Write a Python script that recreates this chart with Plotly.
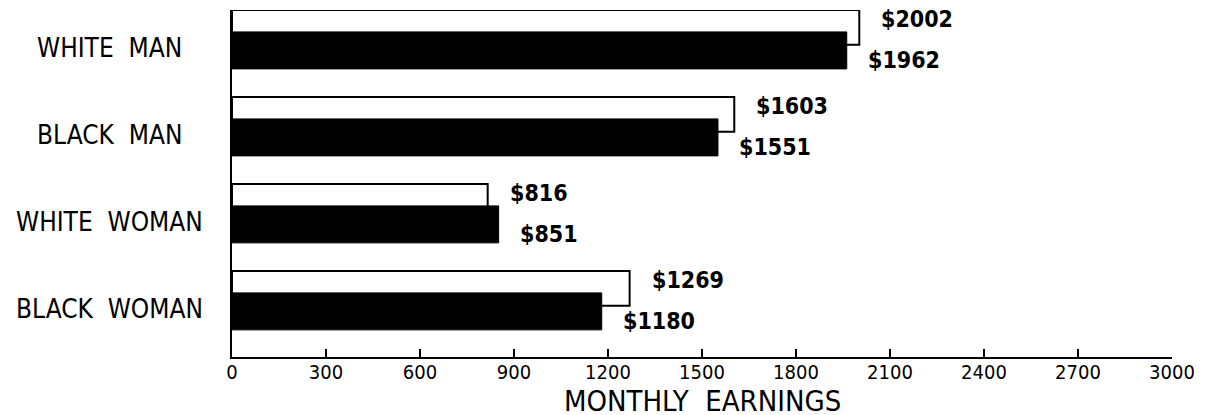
import plotly.graph_objects as go

categories = ["WHITE MAN", "BLACK MAN", "WHITE WOMAN", "BLACK WOMAN"]
outlined_values = [2002, 1603, 816, 1269]
filled_values = [1962, 1551, 851, 1180]
tick_values = [0, 300, 600, 900, 1200, 1500, 1800, 2100, 2400, 2700, 3000]
x_title = "MONTHLY  EARNINGS"

positions = list(range(len(categories)))
FONT = "DejaVu Sans Condensed, Liberation Sans Narrow, DejaVu Sans, sans-serif"

fig = go.Figure()
fig.add_trace(go.Bar(
    y=positions, x=outlined_values, orientation="h",
    width=0.40, offset=-0.339,
    marker=dict(color="white", line=dict(color="black", width=2)),
    showlegend=False, hoverinfo="skip",
))
fig.add_trace(go.Bar(
    y=positions, x=filled_values, orientation="h",
    width=0.425, offset=-0.087,
    marker=dict(color="black", line=dict(color="black", width=1)),
    showlegend=False, hoverinfo="skip",
))

annotations = []
for p, v in zip(positions, outlined_values):
    annotations.append(dict(x=v, y=p - 0.23, xref="x", yref="y", text=f"<b>${v}</b>",
                            showarrow=False, xanchor="left", yanchor="middle", xshift=20,
                            font=dict(family=FONT, size=23, color="black")))
for p, v in zip(positions, filled_values):
    annotations.append(dict(x=v, y=p + 0.24, xref="x", yref="y", text=f"<b>${v}</b>",
                            showarrow=False, xanchor="left", yanchor="middle", xshift=19,
                            font=dict(family=FONT, size=23, color="black")))
for p, c in zip(positions, categories):
    annotations.append(dict(x=-0.13, y=p + 0.10, xref="paper", yref="y",
                            text=c.replace(" ", "  "),
                            showarrow=False, xanchor="center", yanchor="middle",
                            font=dict(family=FONT, size=26, color="black")))
annotations.append(dict(x=0.5, y=-0.128, xref="paper", yref="paper", text=x_title,
                        showarrow=False, xanchor="center", yanchor="middle",
                        font=dict(family=FONT, size=29, color="black")))

fig.update_layout(
    width=1197, height=407,
    margin=dict(l=224, r=33, t=2, b=58),
    paper_bgcolor="white", plot_bgcolor="white",
    barmode="overlay",
    annotations=annotations,
    xaxis=dict(range=[0, 3000], tickvals=tick_values, ticks="inside", ticklen=8,
               tickwidth=2, tickcolor="black", showline=True, linewidth=2,
               linecolor="black", showgrid=False, zeroline=False,
               ticklabelstandoff=-4,
               tickfont=dict(family=FONT, size=20, color="black")),
    yaxis=dict(range=[3.65, -0.339], showline=True, linewidth=2, linecolor="black",
               showticklabels=False, ticks="", showgrid=False, zeroline=False),
)

fig.write_html("out.html")
